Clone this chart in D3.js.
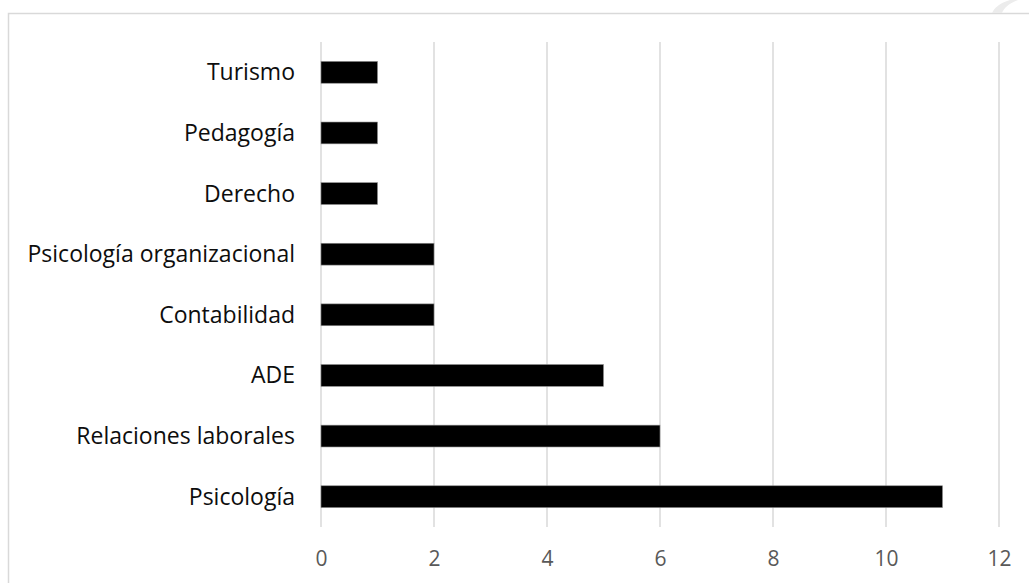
<!DOCTYPE html>
<html>
<head>
<meta charset="utf-8">
<script src="https://cdn.jsdelivr.net/npm/d3@7"></script>
<style>
  html, body { margin: 0; padding: 0; background: #fff; }
  svg { display: block; }
</style>
</head>
<body>
<svg id="chart" width="1029" height="583"></svg>
<script>
// Number of people by field of study
const categories = ["Turismo", "Pedagogía", "Derecho", "Psicología organizacional",
                    "Contabilidad", "ADE", "Relaciones laborales", "Psicología"];
const values = [1, 1, 1, 2, 2, 5, 6, 11];
const xTicks = [0, 2, 4, 6, 8, 10, 12];

const svg = d3.select("#chart");
const H = 583;
const margin = { left: 321, right: 30, top: 42, bottom: 56 };
const fontFamily = "'Open Sans', 'Noto Sans', sans-serif";

// chart frame
svg.append("rect")
  .attr("x", 8.5).attr("y", 13.5)
  .attr("width", 1100).attr("height", 700)
  .attr("fill", "#fff")
  .attr("stroke", "#d9d9d9")
  .attr("stroke-width", 1.5);

// faint curved mark at the top-right corner
svg.append("path")
  .attr("d", "M1010,0 C1000,3 994,8 992,13 L1002,13 C1004,8 1008,4 1018,0 Z")
  .attr("fill", "#ececec");

const x = d3.scaleLinear().domain([0, 12]).range([margin.left, 999]);
const y = d3.scaleBand().domain(categories)
  .range([margin.top, H - margin.bottom])
  .paddingInner(0.64).paddingOuter(0.32);

// vertical gridlines
svg.append("g")
  .selectAll("line")
  .data(xTicks)
  .join("line")
  .attr("x1", d => x(d)).attr("x2", d => x(d))
  .attr("y1", margin.top).attr("y2", H - margin.bottom)
  .attr("stroke", "#d9d9d9")
  .attr("stroke-width", 1.5);

// bars
svg.append("g")
  .selectAll("rect")
  .data(categories.map((c, i) => ({ c, v: values[i] })))
  .join("rect")
  .attr("x", x(0))
  .attr("y", d => y(d.c))
  .attr("width", d => x(d.v) - x(0))
  .attr("height", y.bandwidth())
  .attr("fill", "#000")
  .attr("stroke", "#8c8c8c")
  .attr("stroke-width", 0.6);

// category labels
svg.append("g")
  .selectAll("text")
  .data(categories)
  .join("text")
  .attr("x", 295)
  .attr("y", d => y(d) + y.bandwidth() / 2)
  .attr("dy", "0.35em")
  .attr("text-anchor", "end")
  .attr("font-family", fontFamily)
  .attr("font-size", 23)
  .attr("fill", "#0d0d0d")
  .text(d => d);

// x axis tick labels
const xAxis = d3.axisBottom(x).tickValues(xTicks).tickSize(0).tickPadding(0);
const gx = svg.append("g")
  .attr("transform", `translate(0,${H - margin.bottom + 24})`)
  .call(xAxis);
gx.select(".domain").remove();
gx.selectAll("text")
  .attr("font-family", fontFamily)
  .attr("font-size", 21)
  .attr("fill", "#595959");
</script>
</body>
</html>
